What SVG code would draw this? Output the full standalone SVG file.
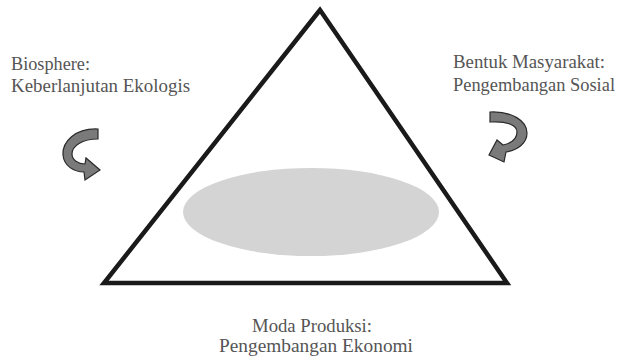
<svg xmlns="http://www.w3.org/2000/svg" width="620" height="358" viewBox="0 0 620 358">
<defs>
<style>
.lbl{font-size:18.5px;fill:#555}
.arr{fill:#7a7a7a;stroke:#2a2a2a;stroke-width:1.2;stroke-linejoin:miter}
</style>
</defs>
<rect width="620" height="358" fill="#fff"/>
<g id="ellipse"><ellipse cx="311" cy="212" rx="128" ry="44" fill="#d4d4d4"/></g>
<g id="triangle"><polygon points="320,10 104,283 507,283" fill="none" stroke="#1a1a1a" stroke-width="4.5" stroke-linejoin="miter"/></g>
<g id="biosphere" font-family="Liberation Serif">
<text class="lbl" x="11" y="69.5" textLength="79" lengthAdjust="spacingAndGlyphs">Biosphere:</text>
<text class="lbl" x="11" y="91.5" textLength="179" lengthAdjust="spacingAndGlyphs">Keberlanjutan Ekologis</text>
</g>
<g id="masyarakat" font-family="Liberation Serif">
<text class="lbl" x="453" y="68" textLength="152" lengthAdjust="spacingAndGlyphs">Bentuk Masyarakat:</text>
<text class="lbl" x="453" y="91" textLength="162" lengthAdjust="spacingAndGlyphs">Pengembangan Sosial</text>
</g>
<g id="produksi" font-family="Liberation Serif">
<text class="lbl" x="252" y="331.5" textLength="120" lengthAdjust="spacingAndGlyphs">Moda Produksi:</text>
<text class="lbl" x="219" y="352" textLength="194" lengthAdjust="spacingAndGlyphs">Pengembangan Ekonomi</text>
</g>
<g id="connectors">
<path class="arr" d="M98,129 C75,128 62,142 63,155 C64,166 74,172 84,172 L85,180 L100,170 L86,158 L85,164 C78,164 72,160 72,154 C72,146 82,139 98,139 Z"/>
<path class="arr" d="M490,112 C512,111 527,121 527,133 C527,143 518,150 506,152 L504,162 L489,155 L497,140 L503,145 C512,143 517,138 517,132 C517,125 507,121 490,122 Z"/>
</g>
</svg>
